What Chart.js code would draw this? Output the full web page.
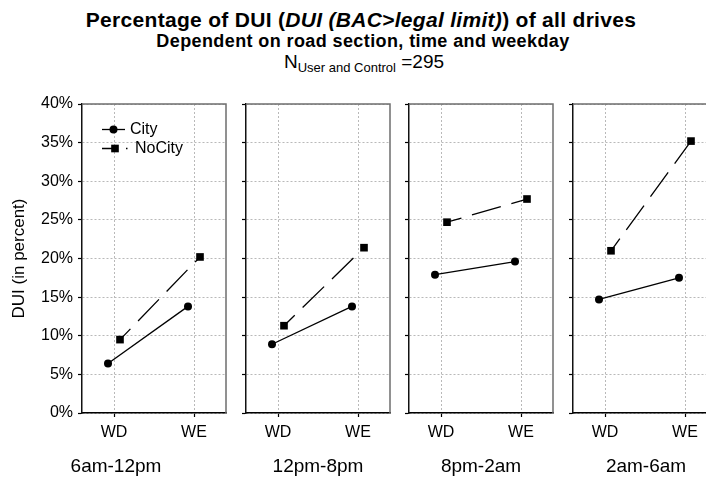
<!DOCTYPE html>
<html>
<head>
<meta charset="utf-8">
<script src="https://cdn.jsdelivr.net/npm/chart.js@4.4.1/dist/chart.umd.min.js"></script>
<style>
  html, body { margin: 0; padding: 0; background: #fff; }
  #wrap { position: relative; width: 706px; height: 479px; overflow: hidden;
          font-family: "Liberation Sans", Arial, sans-serif; color: #000; }
  .txt { position: absolute; white-space: nowrap; }
  canvas { position: absolute; top: 0; }
</style>
</head>
<body>
<div id="wrap">
  <div class="txt" style="left:0;width:722px;text-align:center;top:9px;font-size:21px;line-height:21px;font-weight:bold;letter-spacing:0.3px">Percentage of DUI (<i>DUI (BAC&gt;legal limit)</i>) of all drives</div>
  <div class="txt" style="left:0;width:726px;text-align:center;top:32px;font-size:18px;line-height:18px;font-weight:bold;letter-spacing:0.4px">Dependent on road section, time and weekday</div>
  <div class="txt" style="left:0;width:728px;text-align:center;top:52px;font-size:19px;line-height:19px">N<sub style="font-size:13px;vertical-align:-4px">User and Control</sub> =295</div>
</div>
<script>
// Weekday / weekend categories and the four time-of-day sections
const categories = ['WD', 'WE'];
const periods = ['6am-12pm', '12pm-8pm', '8pm-2am', '2am-6am'];
const seriesNames = ['City', 'NoCity'];

// Share of DUI drives in percent, one [WD, WE] pair per time section
const cityValues   = [[6.4, 13.8], [8.9, 13.8], [17.9, 19.6], [14.7, 17.5]];
const noCityValues = [[9.5, 20.2], [11.3, 21.4], [24.7, 27.7], [21.0, 35.2]];

// Y axis ticks (percent)
const yTicks = [0, 5, 10, 15, 20, 25, 30, 35, 40];

const FONT = '"Liberation Sans", Arial, sans-serif';
const PLOT_LEFT = [82, 246, 409, 573];
const PLOT_W = 144;
const H = 479;
const PERIOD_CENTER = [116, 318, 481, 646];
const SERIES_SHIFT = [-0.075, 0.075];

const wrap = document.getElementById('wrap');

// gray top and right frame lines of each panel
const framePlugin = {
  id: 'frame',
  afterDraw(chart) {
    const { ctx, chartArea: a } = chart;
    ctx.save();
    ctx.strokeStyle = '#6e6e6e';
    ctx.lineWidth = 1.5;
    ctx.beginPath();
    ctx.moveTo(a.left, a.top);
    ctx.lineTo(a.right, a.top);
    ctx.lineTo(a.right, a.bottom);
    ctx.stroke();
    ctx.restore();
  }
};

// legend with line + marker samples inside the first panel
const legendPlugin = {
  id: 'panelLegend',
  afterDraw(chart) {
    const { ctx } = chart;
    const rows = [129.5, 148.5];
    chart.data.datasets.forEach((ds, i) => {
      const y = rows[i];
      ctx.save();
      ctx.strokeStyle = ds.borderColor;
      ctx.lineWidth = ds.borderWidth;
      ctx.beginPath();
      if (i === 0) {
        ctx.moveTo(102, y); ctx.lineTo(125, y);
      } else {
        ctx.moveTo(102, y); ctx.lineTo(118, y);
        ctx.moveTo(126, y); ctx.lineTo(127.5, y);
      }
      ctx.stroke();
      ctx.fillStyle = '#000';
      if (ds.pointStyle === 'circle') {
        ctx.beginPath(); ctx.arc(113.5, y, ds.pointRadius, 0, Math.PI * 2); ctx.fill();
      } else {
        const s = ds.pointRadius * Math.SQRT1_2;
        ctx.fillRect(115 - s, y - s, 2 * s, 2 * s);
      }
      ctx.font = '16px ' + FONT;
      ctx.textBaseline = 'middle';
      ctx.textAlign = 'left';
      ctx.fillText(ds.label, i === 0 ? 130 : 135, y + 0.5);
      ctx.restore();
    });
  }
};

function gridStyle() {
  return { color: '#b9b9b9', lineWidth: 1, tickColor: '#000', tickLength: 4, tickWidth: 1.2 };
}

periods.forEach((period, k) => {
  const first = k === 0;
  const axisW = first ? 82 : 10;
  const cw = axisW + PLOT_W + 6;
  const cv = document.createElement('canvas');
  cv.width = cw; cv.height = H;
  cv.style.left = (PLOT_LEFT[k] - axisW) + 'px';
  cv.style.width = cw + 'px'; cv.style.height = H + 'px';
  wrap.appendChild(cv);

  const lbl = document.createElement('div');
  lbl.className = 'txt';
  lbl.textContent = period;
  lbl.style.cssText += 'font-size:19px;line-height:19px;top:456px;width:200px;text-align:center;left:' + (PERIOD_CENTER[k] - 100) + 'px';
  wrap.appendChild(lbl);

  const series = [cityValues[k], noCityValues[k]];
  const datasets = series.map((vals, s) => ({
    label: seriesNames[s],
    data: categories.map((c, i) => ({ x: i + SERIES_SHIFT[s], y: vals[i] })),
    borderColor: '#000',
    backgroundColor: '#000',
    borderWidth: 1.3,
    borderDash: s === 1 ? [30, 11] : [],
    borderDashOffset: s === 1 ? 15 : 0,
    pointStyle: s === 0 ? 'circle' : 'rect',
    pointRadius: s === 0 ? 4 : 5.4,
    pointBorderWidth: 0,
    pointHoverRadius: s === 0 ? 4 : 5.4,
    tension: 0,
    fill: false
  }));

  new Chart(cv, {
    type: 'line',
    data: { datasets },
    options: {
      responsive: false,
      animation: false,
      devicePixelRatio: 1,
      events: [],
      layout: { padding: { top: 104, right: 6, left: 0, bottom: 0 } },
      plugins: { legend: { display: false }, tooltip: { enabled: false }, title: { display: false } },
      scales: {
        x: {
          type: 'linear',
          min: -0.4, max: 1.4,
          afterBuildTicks: s => { s.ticks = categories.map((c, i) => ({ value: i })); },
          afterFit: s => { s.height = 66; },
          ticks: {
            callback: v => categories[v],
            color: '#000', font: { size: 16, family: FONT },
            padding: 6, maxRotation: 0, autoSkip: false
          },
          grid: gridStyle(),
          border: { color: '#000', width: 1.5, dash: [2, 2] }
        },
        y: {
          min: 0, max: 40,
          afterBuildTicks: s => { s.ticks = yTicks.map(v => ({ value: v })); },
          afterFit: s => { s.width = axisW; },
          ticks: {
            display: first,
            callback: v => v + '%',
            color: '#000', font: { size: 16, family: FONT },
            padding: 5
          },
          title: {
            display: first, text: 'DUI (in percent)', color: '#000',
            font: { size: 17, family: FONT }, padding: { top: 9, bottom: 0 }
          },
          grid: gridStyle(),
          border: { color: '#111', width: 1.5, dash: [2, 2] }
        }
      }
    },
    plugins: first ? [framePlugin, legendPlugin] : [framePlugin]
  });
});
</script>
</body>
</html>
